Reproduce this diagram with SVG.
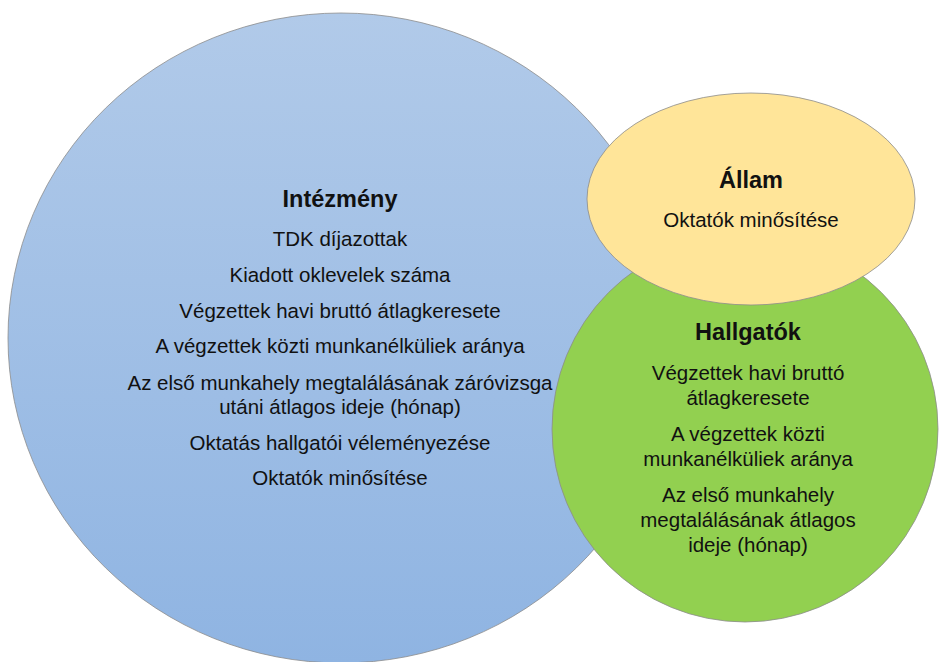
<svg xmlns="http://www.w3.org/2000/svg" width="939" height="662" viewBox="0 0 939 662">
<defs>
<linearGradient id="gBlue" x1="0" y1="0" x2="0" y2="1">
<stop offset="0" stop-color="#b1cae9"/>
<stop offset="1" stop-color="#8fb4e2"/>
</linearGradient>
<style>
text{font-family:"Liberation Sans",Arial,sans-serif;fill:#111;text-anchor:middle;font-size:20.5px}
.h{font-weight:bold;font-size:23.5px}
.shape{stroke:#8c8c8c;stroke-width:0.8}
</style>
</defs>
<rect width="939" height="662" fill="#fff"/>
<g id="intezmeny">
<ellipse class="shape" cx="341" cy="338" rx="333" ry="325" fill="url(#gBlue)"/>
<text class="h" x="340" y="207">Intézmény</text>
<text x="340" y="246">TDK díjazottak</text>
<text x="340" y="282">Kiadott oklevelek száma</text>
<text x="340" y="318">Végzettek havi bruttó átlagkeresete</text>
<text x="340" y="353">A végzettek közti munkanélküliek aránya</text>
<text x="340" y="390">Az első munkahely megtalálásának záróvizsga</text>
<text x="340" y="414">utáni átlagos ideje (hónap)</text>
<text x="340" y="450">Oktatás hallgatói véleményezése</text>
<text x="340" y="485">Oktatók minősítése</text>
</g>
<g id="hallgatok">
<circle class="shape" cx="745" cy="429" r="193" fill="#92d050"/>
<text class="h" x="748" y="340">Hallgatók</text>
<text x="748" y="380">Végzettek havi bruttó</text>
<text x="748" y="405">átlagkeresete</text>
<text x="748" y="441">A végzettek közti</text>
<text x="748" y="466">munkanélküliek aránya</text>
<text x="748" y="502">Az első munkahely</text>
<text x="748" y="527">megtalálásának átlagos</text>
<text x="748" y="552">ideje (hónap)</text>
</g>
<g id="allam">
<ellipse class="shape" cx="751" cy="199" rx="164" ry="106" fill="#ffe599"/>
<text class="h" x="751" y="188">Állam</text>
<text x="751" y="227">Oktatók minősítése</text>
</g>
<g id="connectors"/>
</svg>
